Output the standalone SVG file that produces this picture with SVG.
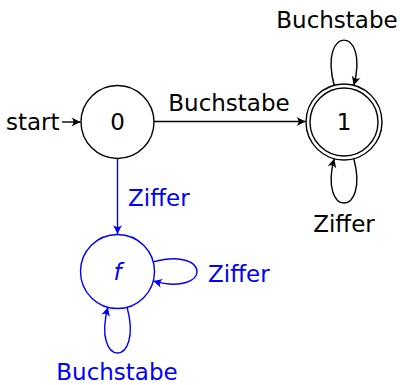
<svg xmlns="http://www.w3.org/2000/svg" width="410" height="385" viewBox="0 0 410 385">
<defs>
<style>
text{font-family:"DejaVu Sans","Liberation Sans",sans-serif;font-size:23px}
.k{fill:#000}
.b{fill:#0000ff}
.st{fill:#fff;stroke:#000;stroke-width:1.4}
.sb{fill:#fff;stroke:#0000ff;stroke-width:1.4}
.e{fill:none;stroke:#000;stroke-width:1.4}
.eb{fill:none;stroke:#0000ff;stroke-width:1.4}
</style>
<marker id="ak" markerUnits="userSpaceOnUse" markerWidth="12" markerHeight="12" viewBox="-10 -6 12 12" refX="0" refY="0" orient="auto"><path d="M0,0 L-9,-4.5 Q-5,0 -9,4.5 Z" fill="#000"/></marker>
<marker id="ab" markerUnits="userSpaceOnUse" markerWidth="12" markerHeight="12" viewBox="-10 -6 12 12" refX="0" refY="0" orient="auto"><path d="M0,0 L-9,-4.5 Q-5,0 -9,4.5 Z" fill="#0000ff"/></marker>
</defs>
<g id="connectors">
<path class="e" d="M62,122 L80.5,122" marker-end="url(#ak)"/>
<path class="e" d="M154,121.5 L305.5,121.5" marker-end="url(#ak)"/>
<path class="e" d="M334.2,85.3 C318,25 370,25 353.8,85.3" marker-end="url(#ak)"/>
<path class="e" d="M353.8,158.7 C369.6,217.8 318.4,217.8 334.2,158.7" marker-end="url(#ak)"/>
<path class="eb" d="M117.5,158.5 L117.5,234" marker-end="url(#ab)"/>
<path class="eb" d="M153.2,261.9 C211.6,246.3 211.6,296.7 153.2,281.1" marker-end="url(#ab)"/>
<path class="eb" d="M127.1,307.2 C143.5,368.3 91.5,368.3 107.9,307.2" marker-end="url(#ab)"/>
<text class="k" x="6" y="130">start</text>
<text class="k" x="229" y="111" text-anchor="middle">Buchstabe</text>
<text class="k" x="337" y="28" text-anchor="middle">Buchstabe</text>
<text class="k" x="344" y="232" text-anchor="middle">Ziffer</text>
<text class="b" x="128" y="206">Ziffer</text>
<text class="b" x="208" y="282">Ziffer</text>
<text class="b" x="117" y="380" text-anchor="middle">Buchstabe</text>
</g>
<g id="node0">
<circle class="st" cx="117.5" cy="122" r="36.5"/>
<text class="k" x="117.5" y="130" text-anchor="middle">0</text>
</g>
<g id="node1">
<circle class="st" cx="344" cy="122" r="38"/>
<circle class="st" cx="344" cy="122" r="34"/>
<text class="k" x="344" y="130" text-anchor="middle">1</text>
</g>
<g id="nodef">
<circle class="sb" cx="117.5" cy="271.5" r="37"/>
<text class="b" x="117.5" y="280" text-anchor="middle" font-style="italic">f</text>
</g>
</svg>
